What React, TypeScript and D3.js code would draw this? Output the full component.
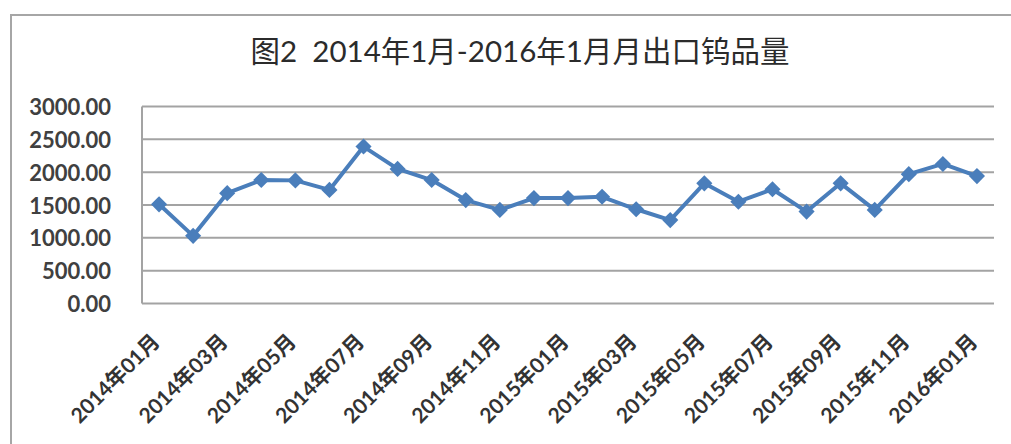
import React from "react";
import * as d3 from "d3";

const months: string[] = [
  "2014年01月", "2014年02月", "2014年03月", "2014年04月", "2014年05月", "2014年06月",
  "2014年07月", "2014年08月", "2014年09月", "2014年10月", "2014年11月", "2014年12月",
  "2015年01月", "2015年02月", "2015年03月", "2015年04月", "2015年05月", "2015年06月",
  "2015年07月", "2015年08月", "2015年09月", "2015年10月", "2015年11月", "2015年12月",
  "2016年01月",
];
const exports: number[] = [
  1510, 1030, 1680, 1880, 1875, 1730, 2390, 2050, 1880, 1575, 1425, 1605,
  1605, 1625, 1435, 1270, 1830, 1550, 1740, 1400, 1830, 1425, 1970, 2125, 1940,
];
const yTicks: number[] = [0, 500, 1000, 1500, 2000, 2500, 3000];
const title = "图2  2014年1月-2016年1月月出口钨品量";

const W = 1011;
const H = 444;
const plot = { left: 142, right: 994, top: 106.5, bottom: 303.5 };
const FONT = "Lato, 'Noto Sans CJK SC', sans-serif";

export default function App() {
  const x = d3.scaleBand<string>().domain(months).range([plot.left, plot.right]);
  const y = d3.scaleLinear().domain([0, 3000]).range([plot.bottom, plot.top]);
  const cx = (m: string) => (x(m) as number) + x.bandwidth() / 2;
  const line = d3
    .line<number>()
    .x((_, i) => cx(months[i]))
    .y((d) => y(d));
  const marker = d3.symbol().type(d3.symbolSquare).size(130)() as string;

  return (
    <svg
      width={W}
      height={H}
      style={{ position: "absolute", left: 0, top: 0, background: "#fff" }}
    >
      <rect x={11} y={15} width={1100} height={600} fill="#fff" stroke="#a6a6a6" strokeWidth={2} />
      <text
        x={520}
        y={55}
        textAnchor="middle"
        dominantBaseline="middle"
        fontFamily={FONT}
        fontSize={29.5}
        fill="#2b2b2b"
        style={{ whiteSpace: "pre" }}
      >
        {title}
      </text>
      {yTicks.map((t) => (
        <g key={t}>
          <line
            x1={plot.left}
            x2={plot.right}
            y1={y(t)}
            y2={y(t)}
            stroke="#a3a3a3"
            strokeWidth={2}
          />
          <text
            x={111}
            y={y(t)}
            textAnchor="end"
            dominantBaseline="central"
            fontFamily={FONT}
            fontWeight={700}
            fontSize={22}
            fill="#404040"
          >
            {t.toFixed(2)}
          </text>
        </g>
      ))}
      <line
        x1={plot.left}
        x2={plot.left}
        y1={plot.top}
        y2={plot.bottom}
        stroke="#a3a3a3"
        strokeWidth={2}
      />
      {months.map((m, i) =>
        i % 2 === 0 ? (
          <text
            key={m}
            transform={`translate(${cx(m) + 2},${343}) rotate(-45)`}
            textAnchor="end"
            fontFamily={FONT}
            fontWeight={700}
            fontSize={21}
            fill="#333"
          >
            {m}
          </text>
        ) : null
      )}
      <path d={line(exports) as string} fill="none" stroke="#4a7ebb" strokeWidth={4} strokeLinejoin="round" />
      {exports.map((v, i) => (
        <path
          key={i}
          d={marker}
          transform={`translate(${cx(months[i])},${y(v)}) rotate(45)`}
          fill="#4a7ebb"
        />
      ))}
    </svg>
  );
}
